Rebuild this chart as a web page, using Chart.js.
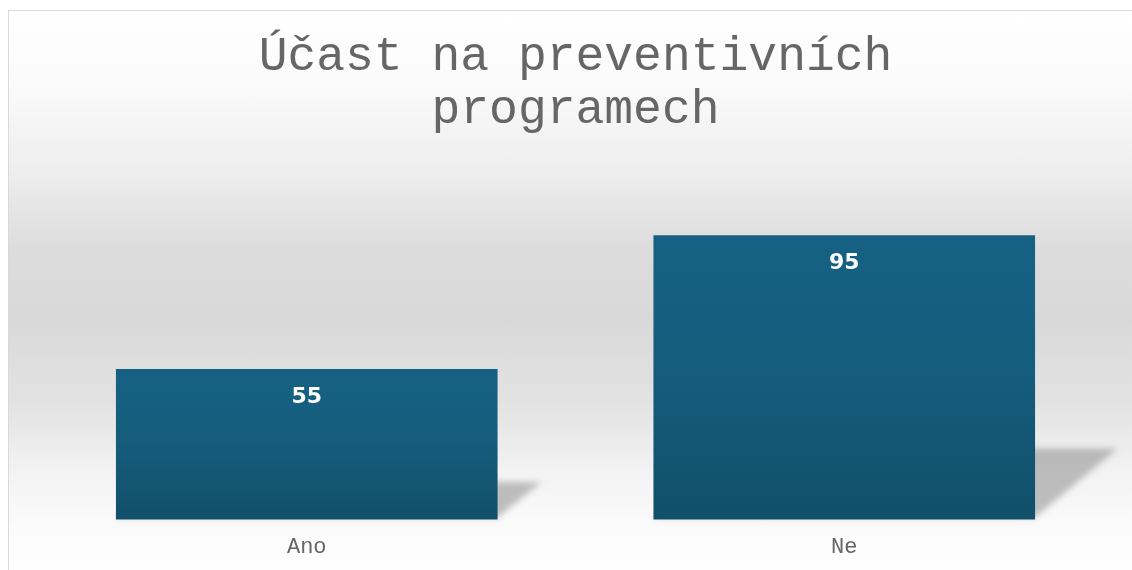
<!DOCTYPE html>
<html>
<head>
<meta charset="utf-8">
<script src="https://cdn.jsdelivr.net/npm/chart.js@4.4.0/dist/chart.umd.min.js"></script>
<style>
  html, body { margin: 0; padding: 0; overflow: hidden; background: #ffffff; }
  #wrap {
    position: absolute; left: 8px; top: 10px; width: 1134px; height: 571px;
    border-top: 1px solid #d9d9d9; border-left: 1px solid #d9d9d9;
    background: linear-gradient(to bottom, #ffffff 0%, #fbfbfb 12%, #eeeeee 28%, #dcdcdc 42%, #d9d9d9 54%, #e2e2e2 68%, #f3f3f3 81%, #fcfcfc 92%, #ffffff 100%);
  }
</style>
</head>
<body>
<div id="wrap"><canvas id="chart" width="1134" height="571"></canvas></div>
<script>
// kategorie a hodnoty
const categories = ['Ano', 'Ne'];
const values = [55, 95];
const titleLines = ['Účast na preventivních', 'programech'];

// stín za sloupci (šikmý, rozmazaný)
const barShadow = {
  id: 'barShadow',
  beforeDatasetsDraw(chart) {
    const ctx = chart.ctx;
    const meta = chart.getDatasetMeta(0);
    const base = chart.chartArea.bottom;
    ctx.save();
    ctx.filter = 'blur(3px)';
    ctx.fillStyle = 'rgba(110,110,110,0.42)';
    meta.data.forEach(bar => {
      const h = base - bar.y;
      const left = bar.x - bar.width / 2;
      const right = bar.x + bar.width / 2;
      const dx = h * 0.29, dy = h * 0.25;
      ctx.beginPath();
      ctx.moveTo(left, base - 2);
      ctx.lineTo(right, base - 2);
      ctx.lineTo(right + dx, base - dy);
      ctx.lineTo(left + dx, base - dy);
      ctx.closePath();
      ctx.fill();
    });
    ctx.restore();
  }
};

// popisky hodnot uvnitř sloupců
const valueLabels = {
  id: 'valueLabels',
  afterDatasetsDraw(chart) {
    const ctx = chart.ctx;
    const meta = chart.getDatasetMeta(0);
    ctx.save();
    ctx.fillStyle = '#ffffff';
    ctx.font = 'bold 22px "DejaVu Sans"';
    ctx.textAlign = 'center';
    ctx.textBaseline = 'middle';
    meta.data.forEach((bar, i) => {
      ctx.fillText(String(values[i]), bar.x, bar.y + 28);
    });
    ctx.restore();
  }
};

function barGradient(context) {
  const chart = context.chart;
  if (!chart.chartArea) return '#155c7b';
  const y = chart.scales.y;
  const top = y.getPixelForValue(values[context.dataIndex]);
  const bottom = chart.chartArea.bottom;
  const g = chart.ctx.createLinearGradient(0, top, 0, bottom);
  g.addColorStop(0, '#166183');
  g.addColorStop(0.45, '#155d7d');
  g.addColorStop(1, '#114f6a');
  return g;
}

window.onload = function () {
  const ctx = document.getElementById('chart').getContext('2d');
  new Chart(ctx, {
    type: 'bar',
    data: {
      labels: categories,
      datasets: [{
        data: values,
        backgroundColor: barGradient,
        borderWidth: 0,
        categoryPercentage: 1.0,
        barPercentage: 0.71
      }]
    },
    plugins: [barShadow, valueLabels],
    options: {
      responsive: false,
      animation: false,
      layout: { padding: { left: 29, right: 30, top: 0, bottom: 16 } },
      plugins: {
        legend: { display: false },
        tooltip: { enabled: false },
        title: {
          display: true,
          text: titleLines,
          color: '#666666',
          font: { family: '"Liberation Mono", "Courier New", monospace', size: 48, weight: 'normal', lineHeight: 1.1 },
          padding: { top: 20, bottom: 82 }
        }
      },
      scales: {
        x: {
          grid: { display: false },
          border: { display: false },
          ticks: {
            color: '#666666',
            padding: 6,
            font: { family: '"Liberation Mono", "Courier New", monospace', size: 22 }
          }
        },
        y: {
          display: false,
          min: 10,
          max: 100
        }
      }
    }
  });
};
</script>
</body>
</html>
